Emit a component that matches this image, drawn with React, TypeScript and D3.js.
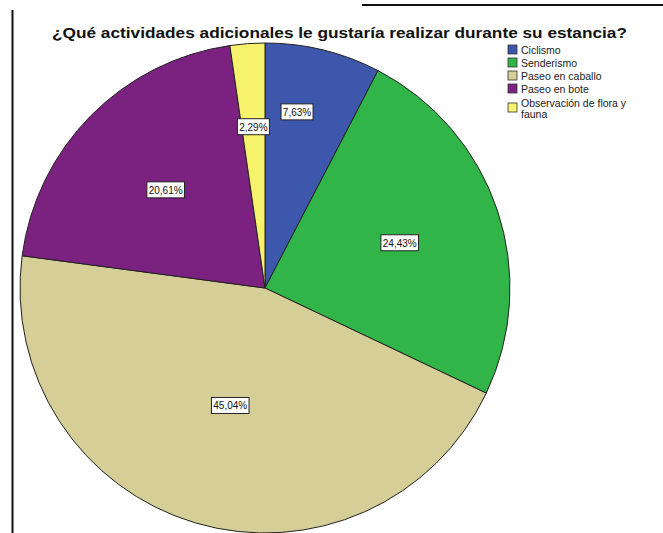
import React from "react";
import * as d3 from "d3";

const categories = ["Ciclismo", "Senderismo", "Paseo en caballo", "Paseo en bote", "Observación de flora y fauna"];
const values = [7.63, 24.43, 45.04, 20.61, 2.29];
const labels = ["7,63%", "24,43%", "45,04%", "20,61%", "2,29%"];
const colors = ["#3d57ad", "#31b548", "#d5ce97", "#7b217f", "#f7f26c"];
const title = "¿Qué actividades adicionales le gustaría realizar durante su estancia?";

const W = 663, H = 533;
const cx = 265, cy = 288, R = 245;
const labelRad = [0.74, 0.58, 0.5, 0.57, 0.66];
const labelShift = [-11, 0, 0, 0, 0];
const legendLines = [["Ciclismo"], ["Senderismo"], ["Paseo en caballo"], ["Paseo en bote"], ["Observación de flora y", "fauna"]];
const legendY = [50, 63, 76, 89, 108];

export default function App() {
  const pie = d3.pie<number>().sort(null).startAngle(0).endAngle(2 * Math.PI);
  const arcs = pie(values);
  const arc = d3.arc<d3.PieArcDatum<number>>().innerRadius(0).outerRadius(R);
  return (
    <svg width={W} height={H} style={{ position: "absolute", left: 0, top: 0, fontFamily: "Liberation Sans, Arial, sans-serif" }}>
      <rect width={W} height={H} fill="#fff" />
      <line x1={362} x2={663} y1={5} y2={5} stroke="#111" strokeWidth={2} />
      <line x1={12.5} x2={12.5} y1={10} y2={533} stroke="#111" strokeWidth={2} />
      <text x={52} y={38} fontWeight="bold" fontSize={15} fill="#111" textLength={575} lengthAdjust="spacingAndGlyphs">{title}</text>
      <g transform={`translate(${cx},${cy})`}>
        {arcs.map((a, i) => (
          <path key={i} d={arc(a) || ""} fill={colors[i]} stroke="#222" strokeWidth={1} />
        ))}
        {arcs.map((a, i) => {
          const mid = (a.startAngle + a.endAngle) / 2;
          const r = R * labelRad[i];
          const x = Math.sin(mid) * r + labelShift[i];
          const y = -Math.cos(mid) * r;
          const w = labels[i].length * 5.6 + 4;
          return (
            <g key={"l" + i} transform={`translate(${x},${y})`}>
              <rect x={-w / 2} y={-8} width={w} height={16} fill="#fff" stroke="#222" strokeWidth={1} />
              <text x={0} y={4} textAnchor="middle" fontSize={10} fill="#111">{labels[i]}</text>
            </g>
          );
        })}
      </g>
      <g>
        {categories.map((c, i) => (
          <g key={c}>
            <rect x={508} y={legendY[i] - 5} width={9} height={9} fill={colors[i]} stroke="#333" strokeWidth={0.8} />
            {legendLines[i].map((ln, j) => (
              <text key={j} x={521} y={legendY[i] + 4 - (legendLines[i].length > 1 ? 5.5 : 0) + j * 11} fontSize={10.5} fill="#222">{ln}</text>
            ))}
          </g>
        ))}
      </g>
    </svg>
  );
}
